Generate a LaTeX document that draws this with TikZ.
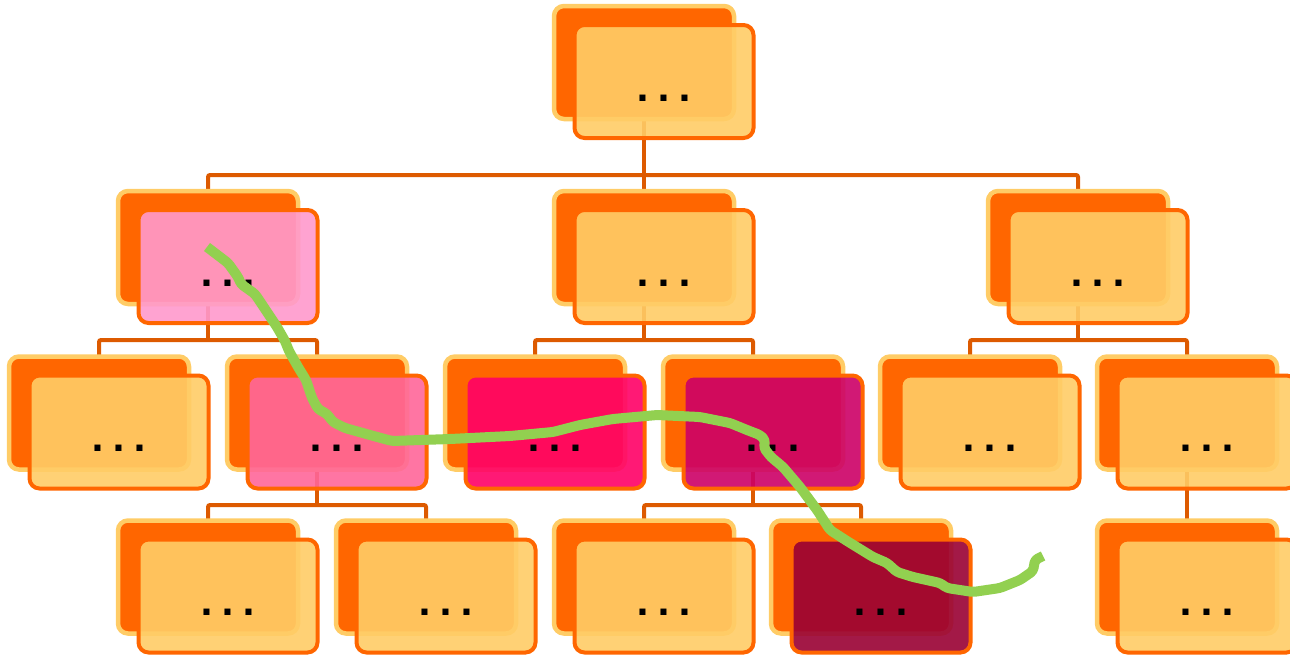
\documentclass[tikz,border=0pt]{standalone}
\usepackage{fontspec}
\setmainfont{DejaVu Sans}
\definecolor{orng}{HTML}{FF6600}
\definecolor{lite}{HTML}{FFCC66}
\definecolor{connc}{HTML}{DD5A00}
\definecolor{pinkA}{HTML}{FF99CC}
\definecolor{pinkB}{HTML}{FF6699}
\definecolor{pinkC}{HTML}{FF0066}
\definecolor{pinkD}{HTML}{CC0066}
\definecolor{pinkE}{HTML}{990033}
\definecolor{grn}{HTML}{92D050}
\tikzset{
  backbox/.style={rectangle, minimum width=180pt, minimum height=113pt, inner sep=0pt,
    rounded corners=10pt, draw=lite, line width=4.5pt, fill=orng},
  frontbox/.style={rectangle, minimum width=179pt, minimum height=113pt, inner sep=0pt,
    rounded corners=10pt, draw=orng, line width=4pt, fill=#1, fill opacity=0.9},
  frontbox/.default=lite,
  dotstext/.style={anchor=base, inner sep=0pt, font=\fontsize{34}{34}\selectfont\bfseries},
  conn/.style={draw=connc, line width=4pt, rounded corners=2pt},
  trail/.style={draw=grn, line width=10pt, line join=round, line cap=butt, rounded corners=3pt}
}
\newcommand\tdots{.\kern 8.5pt.\kern 8.5pt.}
\newcommand\treenode[2]{%
  \node[backbox] (#1-b) at (#1) {};
  \node[frontbox=#2] (#1-f) at ([shift={(20,19)}]#1) {};
  \node[dotstext] (#1-t) at ([shift={(20,38.5)}]#1) {\tdots};
}
\begin{document}
\begin{tikzpicture}[x=1pt,y=-1pt]
\useasboundingbox (0,0) rectangle (1290,656);
% positions (centres of the back boxes)
\coordinate (n0) at (644,62.5);
\coordinate (a1) at (208,247.5);
\coordinate (a2) at (644,247.5);
\coordinate (a3) at (1078,247.5);
\coordinate (b1) at (99,413);
\coordinate (b2) at (317,413);
\coordinate (b3) at (535,413);
\coordinate (b4) at (753,413);
\coordinate (b5) at (970,413);
\coordinate (b6) at (1187,413);
\coordinate (c1) at (208,577);
\coordinate (c2) at (426,577);
\coordinate (c3) at (644,577);
\coordinate (c4) at (861,577);
\coordinate (c5) at (1187,577);
% junctions
\coordinate (j0) at (644,175);
\coordinate (j1) at (208,340);
\coordinate (j2) at (644,340);
\coordinate (j3) at (1078,340);
\coordinate (j4) at (317,505);
\coordinate (j5) at (753,505);
% connectors
\draw[conn] (n0) -- (j0);
\draw[conn] (a1) |- (j0) -| (a3);
\draw[conn] (a2) -- (j0);
\draw[conn] (a1) -- (j1);
\draw[conn] (b1) |- (j1) -| (b2);
\draw[conn] (a2) -- (j2);
\draw[conn] (b3) |- (j2) -| (b4);
\draw[conn] (a3) -- (j3);
\draw[conn] (b5) |- (j3) -| (b6);
\draw[conn] (b2) -- (j4);
\draw[conn] (c1) |- (j4) -| (c2);
\draw[conn] (b4) -- (j5);
\draw[conn] (c3) |- (j5) -| (c4);
\draw[conn] (b6) -- (c5);
% nodes
\treenode{n0}{lite}
\treenode{a1}{pinkA}
\treenode{a2}{lite}
\treenode{a3}{lite}
\treenode{b1}{lite}
\treenode{b2}{pinkB}
\treenode{b3}{pinkC}
\treenode{b4}{pinkD}
\treenode{b5}{lite}
\treenode{b6}{lite}
\treenode{c1}{lite}
\treenode{c2}{lite}
\treenode{c3}{lite}
\treenode{c4}{pinkE}
\treenode{c5}{lite}
% green trail
\draw[trail] (207,247) -- (228,263) -- (238,277) -- (241,284) -- (255,294) -- (277,327)
  -- (285,341) -- (289,351) -- (298,367) -- (306,380) -- (312,398) -- (318,409)
  -- (327,414) -- (333,422) -- (345,428) -- (370,435) -- (392,441) -- (450,439)
  -- (510,436) -- (553,432) -- (580,425) -- (613,419) -- (657,415) -- (700,417)
  -- (730,423) -- (747,430) -- (760,435) -- (765,440) -- (764,448) -- (771,457)
  -- (783,467) -- (800,487) -- (817,510) -- (830,530) -- (847,541) -- (873,557)
  -- (887,563) -- (897,572) -- (913,577) -- (940,583) -- (947,588) -- (973,592)
  -- (1000,588) -- (1020,580) -- (1033,571) -- (1035,560) -- (1043,556);
\end{tikzpicture}
\end{document}
